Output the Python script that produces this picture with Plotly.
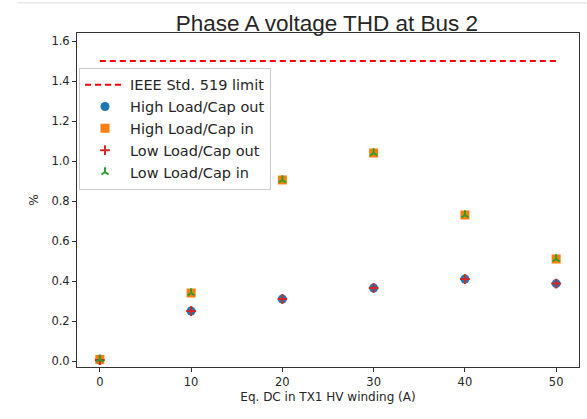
import plotly.graph_objects as go

dc = [0, 10, 20, 30, 40, 50]
limit = [1.5, 1.5, 1.5, 1.5, 1.5, 1.5]
high_cap_out = [0.005, 0.25, 0.31, 0.365, 0.41, 0.387]
high_cap_in = [0.008, 0.34, 0.905, 1.04, 0.73, 0.51]
low_cap_out = [0.005, 0.25, 0.31, 0.365, 0.41, 0.387]
low_cap_in = [0.008, 0.34, 0.905, 1.04, 0.73, 0.51]
yticks = [0.0, 0.2, 0.4, 0.6, 0.8, 1.0, 1.2, 1.4, 1.6]
xticks = [0, 10, 20, 30, 40, 50]

fig = go.Figure()
fig.add_trace(go.Scatter(x=dc, y=limit, mode="lines", name="IEEE Std. 519 limit",
                         line=dict(color="#ff0000", dash="6px,4px", width=2)))
fig.add_trace(go.Scatter(x=dc, y=high_cap_out, mode="markers", name="High Load/Cap out",
                         marker=dict(symbol="circle", size=9, color="#1f77b4")))
fig.add_trace(go.Scatter(x=dc, y=high_cap_in, mode="markers", name="High Load/Cap in",
                         marker=dict(symbol="square", size=9, color="#ff7f0e")))
fig.add_trace(go.Scatter(x=dc, y=low_cap_out, mode="markers", name="Low Load/Cap out",
                         marker=dict(symbol="cross-thin", size=7, color="#d62728",
                                     line=dict(color="#d62728", width=2))))
fig.add_trace(go.Scatter(x=dc, y=low_cap_in, mode="markers", name="Low Load/Cap in",
                         marker=dict(symbol="y-up", size=6, color="#2ca02c",
                                     line=dict(color="#2ca02c", width=2))))

axis_common = dict(showline=True, linecolor="#333333", linewidth=1, mirror=True,
                   ticks="outside", ticklen=4, tickcolor="#333333", showgrid=False,
                   zeroline=False, tickfont=dict(family="DejaVu Sans", size=11.5, color="#262626"))
fig.update_xaxes(range=[-2.5, 52.5], tickvals=xticks,
                 title=dict(text="Eq. DC in TX1 HV winding (A)", standoff=4,
                            font=dict(family="DejaVu Sans", size=12, color="#262626")),
                 **axis_common)
fig.update_yaxes(range=[-0.03, 1.64], tickvals=yticks, tickformat=".1f",
                 title=dict(text="%", standoff=10,
                            font=dict(family="DejaVu Sans", size=12, color="#262626")),
                 **axis_common)
fig.update_layout(
    width=587, height=419,
    margin=dict(l=77, r=8, t=33, b=52),
    paper_bgcolor="white", plot_bgcolor="white",
    title=dict(text="Phase A voltage THD at Bus 2", x=0.557, xanchor="center", y=0.945, yanchor="middle",
               font=dict(family="Liberation Sans", size=22.5, color="#262626")),
    legend=dict(x=0.004, y=0.896, xanchor="left", yanchor="top", itemwidth=40,
                bordercolor="#cccccc", borderwidth=1, bgcolor="rgba(255,255,255,0.8)",
                font=dict(family="DejaVu Sans", size=14.5, color="#262626")),
    shapes=[dict(type="line", xref="paper", yref="paper", x0=-0.12, x1=1.02, y0=1.09, y1=1.09,
                 line=dict(color="#dddddd", width=1))],
)
fig.write_html("out.html")
